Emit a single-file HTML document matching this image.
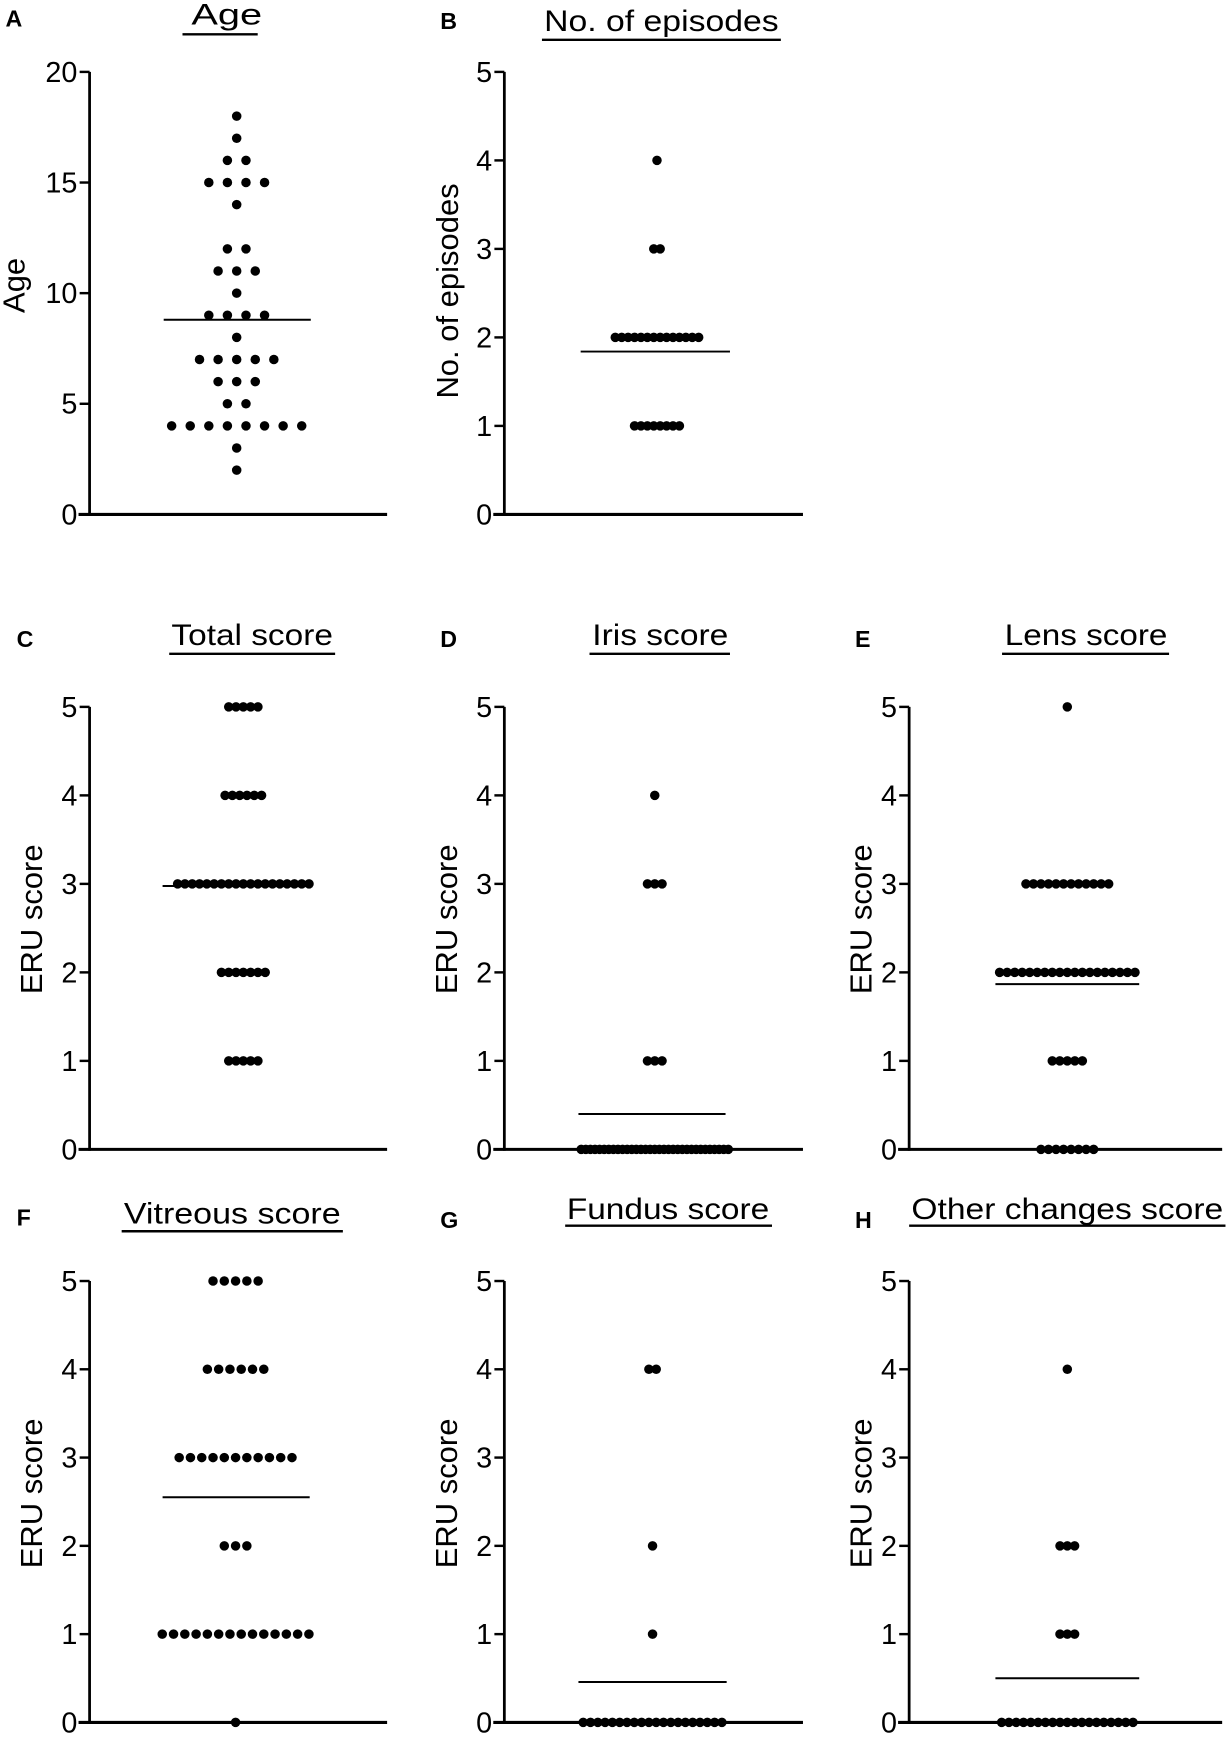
<!DOCTYPE html>
<html><head><meta charset="utf-8">
<style>
html,body{margin:0;padding:0;background:#fff;}
svg{display:block;}
text{font-family:"Liberation Sans",Arial,sans-serif;fill:#000;}
</style></head>
<body>
<svg id="fig" width="1231" height="1739" viewBox="0 0 1113 1572" preserveAspectRatio="none" xmlns="http://www.w3.org/2000/svg"></svg>
<script>
// ---- data (value levels and number of subjects at each level) ----
const ageLevels   = [18,17,16,15,14,12,11,10,9,8,7,6,5,4,3,2];
const ageCounts   = [1,1,2,4,1,2,3,1,4,1,5,3,2,8,1,1];
const epiLevels   = [4,3,2,1];
const epiCounts   = [1,2,14,8];
const totalLevels = [5,4,3,2,1];
const totalCounts = [5,6,19,7,5];
const irisLevels  = [4,3,1,0];
const irisCounts  = [1,3,3,33];
const lensLevels  = [5,3,2,1,0];
const lensCounts  = [1,12,19,5,8];
const vitLevels   = [5,4,3,2,1,0];
const vitCounts   = [5,6,11,3,14,1];
const fundLevels  = [4,2,1,0];
const fundCounts  = [2,1,1,20];
const otherLevels = [4,2,1,0];
const otherCounts = [1,3,3,19];
const ageTicks    = [0,5,10,15,20];
const scoreTicks  = [0,1,2,3,4,5];

const NS="http://www.w3.org/2000/svg";
const svg=document.getElementById('fig');
function mk(tag,attrs,parent){const e=document.createElementNS(NS,tag);for(const k in attrs)e.setAttribute(k,attrs[k]);(parent||svg).appendChild(e);return e;}

const panels=[
 {id:'a',letter:'A',lx:5,ly:24,title:'Age',tcx:205,ty:22,ul:[165,233,31],ylab:'Age',ylx:22,yly:258,ax:81,xEnd:350,y0:465,yTop:65,max:20,ticks:ageTicks,levels:ageLevels,counts:ageCounts,cx:214,sp:16.8,cap:300,mean:[148,281]},
 {id:'b',letter:'B',lx:398,ly:26,title:'No. of episodes',tcx:598,ty:28,ul:[490,706,36],ylab:'No. of episodes',ylx:414,yly:263,ax:456,xEnd:726,y0:465,yTop:65,max:5,ticks:scoreTicks,levels:epiLevels,counts:epiCounts,cx:594,sp:5.8,cap:133,mean:[525,660]},
 {id:'c',letter:'C',lx:15,ly:585,title:'Total score',tcx:228,ty:583,ul:[153,303,591],ylab:'ERU score',ylx:38,yly:831,ax:81,xEnd:350,y0:1039,yTop:639,max:5,ticks:scoreTicks,levels:totalLevels,counts:totalCounts,cx:220,sp:6.6,cap:133,mean:[147,281]},
 {id:'d',letter:'D',lx:398,ly:585,title:'Iris score',tcx:597,ty:583,ul:[533,660,591],ylab:'ERU score',ylx:413,yly:831,ax:456,xEnd:726,y0:1039,yTop:639,max:5,ticks:scoreTicks,levels:irisLevels,counts:irisCounts,cx:592,sp:6.6,cap:133,mean:[523,656]},
 {id:'e',letter:'E',lx:773,ly:585,title:'Lens score',tcx:982,ty:583,ul:[906,1057,591],ylab:'ERU score',ylx:788,yly:831,ax:822,xEnd:1105,y0:1039,yTop:639,max:5,ticks:scoreTicks,levels:lensLevels,counts:lensCounts,cx:965,sp:6.8,cap:133,mean:[900,1030]},
 {id:'f',letter:'F',lx:15,ly:1108,title:'Vitreous score',tcx:210,ty:1106,ul:[110,310,1113],ylab:'ERU score',ylx:38,yly:1350,ax:81,xEnd:350,y0:1557,yTop:1158,max:5,ticks:scoreTicks,levels:vitLevels,counts:vitCounts,cx:213,sp:10.2,cap:133,mean:[147,280]},
 {id:'g',letter:'G',lx:398,ly:1110,title:'Fundus score',tcx:604,ty:1102,ul:[511,698,1108],ylab:'ERU score',ylx:413,yly:1350,ax:456,xEnd:726,y0:1557,yTop:1158,max:5,ticks:scoreTicks,levels:fundLevels,counts:fundCounts,cx:590,sp:6.6,cap:133,mean:[523,657]},
 {id:'h',letter:'H',lx:773,ly:1110,title:'Other changes score',tcx:965,ty:1102,ul:[822,1108,1108],ylab:'ERU score',ylx:788,yly:1350,ax:822,xEnd:1105,y0:1557,yTop:1158,max:5,ticks:scoreTicks,levels:otherLevels,counts:otherCounts,cx:965,sp:6.6,cap:133,mean:[900,1030]}
];

panels.forEach(p=>{
  const g=mk('g',{});
  
  
  const y=v=>p.y0-(v/p.max)*(p.y0-p.yTop);
  const L=mk('text',{x:p.lx,y:p.ly,'font-size':21,'font-weight':'bold'},g);L.textContent=p.letter;
  
  
  const T=mk('text',{x:p.tcx,y:p.ty,'font-size':27,'text-anchor':'middle',textLength:(p.ul[1]-p.ul[0]-4),lengthAdjust:'spacingAndGlyphs'},g);T.textContent=p.title;
  
  
  const U=mk('line',{x1:p.ul[0],x2:p.ul[1],y1:p.ul[2],y2:p.ul[2],stroke:'#000','stroke-width':2.2},g);
  
  
  const Y=mk('text',{x:p.ylx,y:p.yly,'font-size':28,'text-anchor':'middle',transform:`rotate(-90 ${p.ylx} ${p.yly})`},g);Y.textContent=p.ylab;
  
  
  const ya=mk('line',{x1:p.ax,x2:p.ax,y1:p.yTop,y2:p.y0+1.2,stroke:'#000','stroke-width':2.5},g);
  
  
  const xa=mk('line',{x1:p.ax-10,x2:p.xEnd,y1:p.y0,y2:p.y0,stroke:'#000','stroke-width':2.8},g);
  
  
  p.ticks.forEach(t=>{
    const tk=mk('line',{x1:p.ax-9,x2:p.ax,y1:y(t),y2:y(t),stroke:'#000','stroke-width':2.2},g);
    
    
    const tl=mk('text',{x:p.ax-11,y:y(t)+9,'font-size':26,'text-anchor':'end'},g);tl.textContent=t;
    
    
  });
  let sum=0,n=0;
  p.levels.forEach((v,i)=>{
    const c=p.counts[i];sum+=v*c;n+=c;
    const sp=c>1?Math.min(p.sp,p.cap/(c-1)):0;
    for(let k=0;k<c;k++){
      const d=mk('circle',{cx:p.cx+(k-(c-1)/2)*sp,cy:y(v),r:4.3,fill:'#000'},g);
      
      
    }
  });
  const m=sum/n;
  const ml=mk('line',{x1:p.mean[0],x2:p.mean[1],y1:y(m),y2:y(m),stroke:'#000','stroke-width':1.8},g);
  
  
});
</script>
</body></html>
